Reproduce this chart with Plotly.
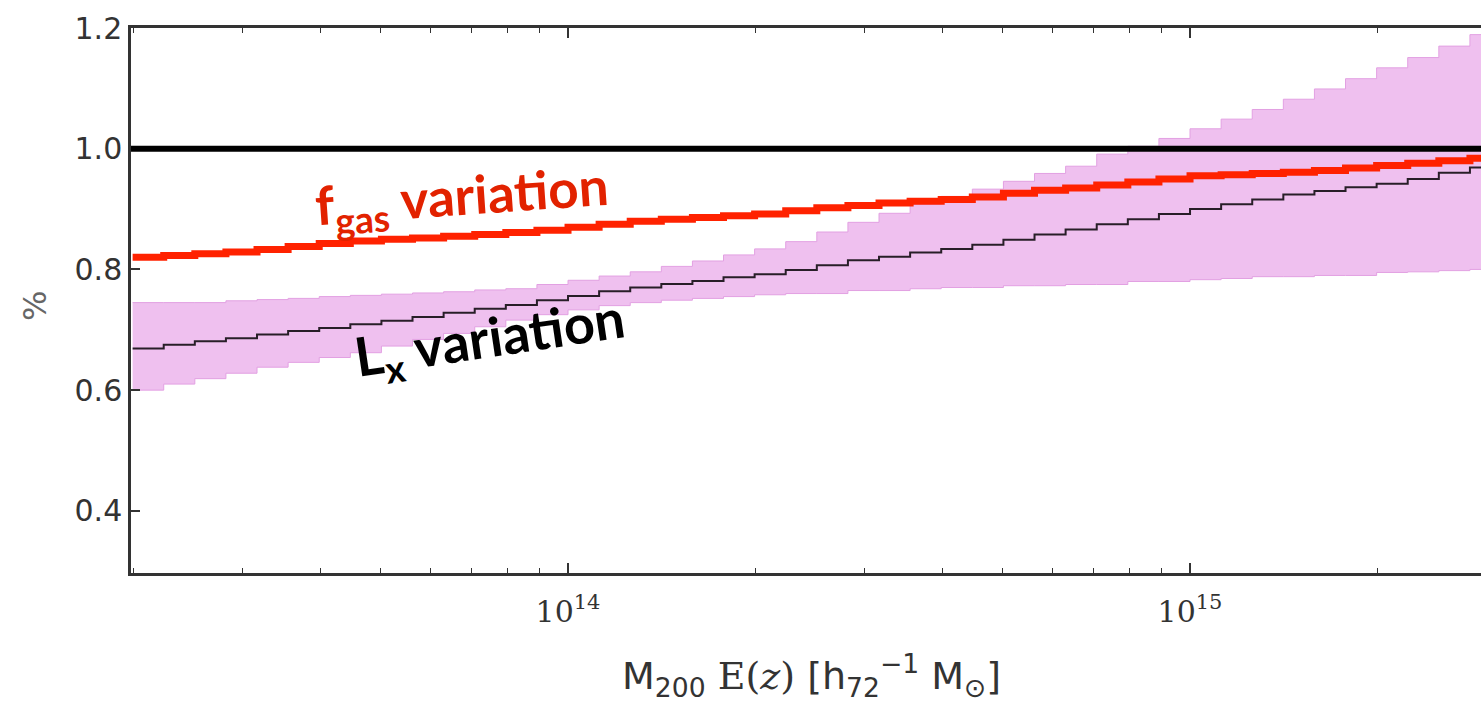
import plotly.graph_objects as go

# log10 of M200 E(z) [h72^-1 Msun] at which the curves were read
mass_log = [13.30, 13.35, 13.40, 13.45, 13.50, 13.55, 13.60, 13.65, 13.70, 13.75,
            13.80, 13.85, 13.90, 13.95, 14.00, 14.05, 14.10, 14.15, 14.20, 14.25,
            14.30, 14.35, 14.40, 14.45, 14.50, 14.55, 14.60, 14.65, 14.70, 14.75,
            14.80, 14.85, 14.90, 14.95, 15.00, 15.05, 15.10, 15.15, 15.20, 15.25,
            15.30, 15.35, 15.40, 15.45, 15.47]

fgas_ratio = [0.820, 0.823, 0.826, 0.829, 0.833, 0.838, 0.843, 0.847, 0.850, 0.852,
              0.855, 0.858, 0.861, 0.865, 0.870, 0.875, 0.880, 0.883, 0.886, 0.889,
              0.892, 0.897, 0.902, 0.906, 0.910, 0.913, 0.916, 0.920, 0.926, 0.931,
              0.935, 0.940, 0.945, 0.950, 0.955, 0.957, 0.959, 0.961, 0.964, 0.968,
              0.972, 0.976, 0.980, 0.984, 0.985]

lx_ratio = [0.669, 0.675, 0.681, 0.686, 0.692, 0.698, 0.703, 0.709, 0.715, 0.721,
            0.728, 0.735, 0.741, 0.749, 0.756, 0.764, 0.770, 0.776, 0.781, 0.787,
            0.792, 0.799, 0.807, 0.815, 0.821, 0.828, 0.834, 0.841, 0.849, 0.858,
            0.866, 0.875, 0.883, 0.892, 0.900, 0.908, 0.916, 0.924, 0.930, 0.936,
            0.942, 0.950, 0.960, 0.969, 0.973]

band_upper = [0.745, 0.745, 0.745, 0.748, 0.750, 0.752, 0.755, 0.757, 0.759, 0.761,
              0.763, 0.766, 0.768, 0.775, 0.782, 0.789, 0.796, 0.805, 0.814, 0.824,
              0.834, 0.846, 0.862, 0.878, 0.893, 0.908, 0.921, 0.933, 0.946, 0.959,
              0.971, 0.991, 1.004, 1.017, 1.033, 1.049, 1.065, 1.082, 1.099, 1.116,
              1.134, 1.151, 1.170, 1.189, 1.196]

band_lower = [0.600, 0.610, 0.619, 0.628, 0.638, 0.646, 0.654, 0.662, 0.673, 0.684,
              0.694, 0.705, 0.716, 0.725, 0.733, 0.740, 0.745, 0.749, 0.752, 0.755,
              0.758, 0.760, 0.760, 0.765, 0.765, 0.768, 0.770, 0.770, 0.773, 0.773,
              0.775, 0.775, 0.780, 0.780, 0.783, 0.785, 0.788, 0.788, 0.790, 0.790,
              0.795, 0.796, 0.798, 0.800, 0.803]

reference_level = 1.0

x_major_ticks = [1e14, 1e15]
x_major_labels = ["10<sup>14</sup>", "10<sup>15</sup>"]
x_minor_ticks = [2e13, 3e13, 4e13, 5e13, 6e13, 7e13, 8e13, 9e13,
                 2e14, 3e14, 4e14, 5e14, 6e14, 7e14, 8e14, 9e14, 2e15]
y_ticks = [0.4, 0.6, 0.8, 1.0, 1.2]
y_labels = ["0.4", "0.6", "0.8", "1.0", "1.2"]

mass = [10 ** v for v in mass_log]

PINK = "rgb(239,192,239)"
PINK_EDGE = "rgb(226,160,226)"
RED_LINE = "rgb(255,34,0)"
RED_TEXT = "rgb(226,34,0)"
AXIS = "#333333"

fig = go.Figure()

fig.add_trace(go.Scatter(x=mass, y=band_lower, mode="lines", line_shape="hv",
                         line=dict(color=PINK_EDGE, width=1), hoverinfo="skip",
                         showlegend=False))
fig.add_trace(go.Scatter(x=mass, y=band_upper, mode="lines", line_shape="hv",
                         line=dict(color=PINK_EDGE, width=1), fill="tonexty",
                         fillcolor=PINK, hoverinfo="skip", showlegend=False))
fig.add_trace(go.Scatter(x=mass, y=lx_ratio, mode="lines", line_shape="hv",
                         line=dict(color="rgb(40,30,40)", width=2),
                         showlegend=False, name="Lx variation"))
fig.add_trace(go.Scatter(x=mass, y=fgas_ratio, mode="lines", line_shape="hv",
                         line=dict(color=RED_LINE, width=7),
                         showlegend=False, name="fgas variation"))

fig.add_shape(type="line", xref="paper", x0=0, x1=1, yref="y",
              y0=reference_level, y1=reference_level,
              line=dict(color="black", width=6), layer="above")

fig.add_annotation(text="f<sub>gas</sub> variation", xref="x", yref="y",
                   x=13.83, y=0.918, showarrow=False, textangle=-4,
                   xanchor="center", yanchor="middle",
                   font=dict(family="Lato", size=53, color=RED_TEXT, weight="bold"))
fig.add_annotation(text="L<sub>x</sub> variation", xref="x", yref="y",
                   x=13.875, y=0.683, showarrow=False, textangle=-8.5,
                   xanchor="center", yanchor="middle",
                   font=dict(family="Lato", size=54, color="black", weight="bold"))

fig.add_annotation(text="%", xref="paper", yref="paper", x=-0.071, y=0.49,
                   xanchor="center", yanchor="middle",
                   showarrow=False, textangle=-90,
                   font=dict(family="DejaVu Sans", size=32, color="#666666"))
fig.add_annotation(
    text=("M<sub>200</sub> <span style='font-family:DejaVu Serif'>E(<i>z</i>)</span> "
          "[h<sub>72</sub><sup>−1</sup> M<sub>⊙</sub>]"),
    xref="paper", yref="paper", x=0.504, y=-0.188, showarrow=False,
    xanchor="center", yanchor="middle",
    font=dict(family="DejaVu Sans", size=38, color="#333333"))

fig.update_xaxes(type="log", range=[13.2974, 15.4678],
                 tickmode="array", tickvals=x_major_ticks, ticktext=x_major_labels,
                 ticks="inside", ticklen=10, tickwidth=1.5, tickcolor=AXIS,
                 showline=True, linecolor=AXIS, linewidth=2.5, mirror="ticks",
                 showgrid=False, zeroline=False, ticklabelstandoff=10,
                 tickfont=dict(family="DejaVu Serif", size=30, color="#333333"),
                 minor=dict(tickmode="array", tickvals=x_minor_ticks, ticks="inside",
                            ticklen=5, tickwidth=1.2, tickcolor=AXIS, showgrid=False))
fig.update_yaxes(range=[0.297, 1.2], tickmode="array", tickvals=y_ticks,
                 ticktext=y_labels, ticks="inside", ticklen=9, tickwidth=1.5,
                 tickcolor=AXIS, showline=True, linecolor=AXIS, linewidth=2.5,
                 mirror=False, showgrid=False, zeroline=False,
                 tickfont=dict(family="DejaVu Sans", size=30, color="#333333"))

fig.update_layout(width=1481, height=702,
                  margin=dict(l=131, r=0, t=28, b=129),
                  plot_bgcolor="white", paper_bgcolor="white", showlegend=False)

fig.write_html("out.html")
